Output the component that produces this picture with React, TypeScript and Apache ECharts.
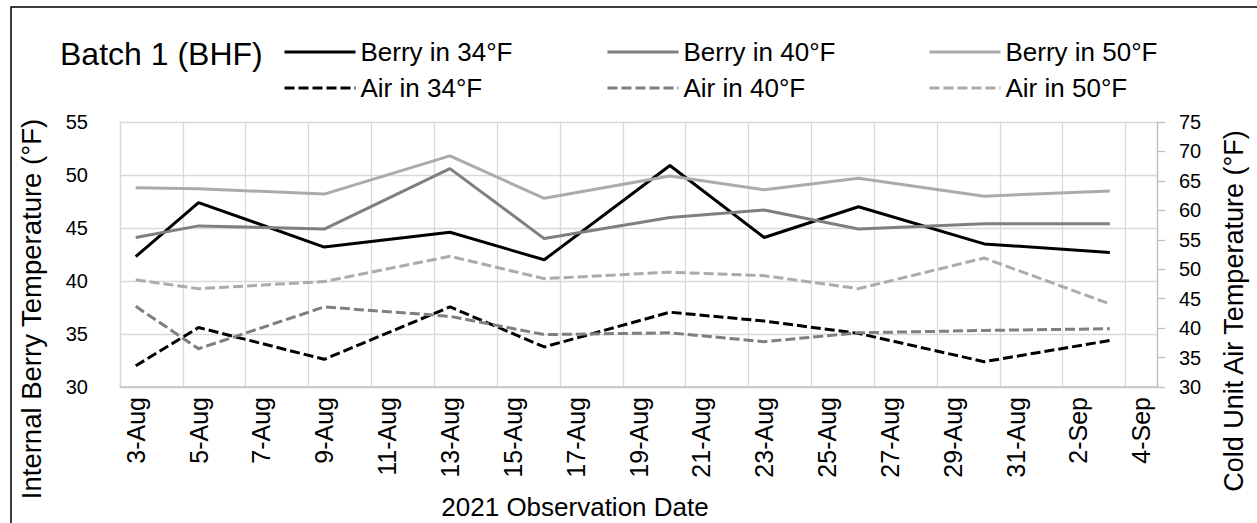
import React, { useEffect, useRef } from "react";
import * as echarts from "echarts";

const categories = [
  "3-Aug", "4-Aug", "5-Aug", "6-Aug", "7-Aug", "8-Aug", "9-Aug", "10-Aug", "11-Aug",
  "12-Aug", "13-Aug", "14-Aug", "15-Aug", "16-Aug", "17-Aug", "18-Aug", "19-Aug",
  "20-Aug", "21-Aug", "22-Aug", "23-Aug", "24-Aug", "25-Aug", "26-Aug", "27-Aug",
  "28-Aug", "29-Aug", "30-Aug", "31-Aug", "1-Sep", "2-Sep", "3-Sep", "4-Sep",
];

const obsDates = ["3-Aug", "5-Aug", "9-Aug", "13-Aug", "16-Aug", "20-Aug", "23-Aug", "26-Aug", "30-Aug", "3-Sep"];

const berry34 = [42.3, 47.4, 43.2, 44.6, 42.0, 50.9, 44.1, 47.0, 43.5, 42.7];
const berry40 = [44.1, 45.2, 44.9, 50.6, 44.0, 46.0, 46.7, 44.9, 45.4, 45.4];
const berry50 = [48.8, 48.7, 48.2, 51.8, 47.8, 49.9, 48.6, 49.7, 48.0, 48.5];
const air34 = [33.6, 40.1, 34.7, 43.6, 36.8, 42.7, 41.2, 39.1, 34.3, 37.9];
const air40 = [43.7, 36.5, 43.6, 42.0, 38.9, 39.2, 37.7, 39.2, 39.6, 39.9];
const air50 = [48.2, 46.7, 47.9, 52.2, 48.4, 49.5, 48.9, 46.7, 51.9, 44.1];

const FONT = '"Liberation Sans", Arial, sans-serif';
const BLACK = "#000000";
const MID = "#7f7f7f";
const LIGHT = "#aeaaaa";
const DASH = [10, 4];

const pairs = (vals: number[]) => obsDates.map((d, i) => [d, vals[i]]);

export default function App() {
  const ref = useRef<HTMLDivElement>(null);
  useEffect(() => {
    if (!ref.current) return;
    const chart = echarts.init(ref.current, undefined, { renderer: "svg" });

    const seriesDefs = [
      { name: "Berry in 34°F", data: berry34, color: BLACK, dashed: false, axis: 0, col: 0, row: 0 },
      { name: "Berry in 40°F", data: berry40, color: MID, dashed: false, axis: 0, col: 1, row: 0 },
      { name: "Berry in 50°F", data: berry50, color: LIGHT, dashed: false, axis: 0, col: 2, row: 0 },
      { name: "Air in 34°F", data: air34, color: BLACK, dashed: true, axis: 1, col: 0, row: 1 },
      { name: "Air in 40°F", data: air40, color: MID, dashed: true, axis: 1, col: 1, row: 1 },
      { name: "Air in 50°F", data: air50, color: LIGHT, dashed: true, axis: 1, col: 2, row: 1 },
    ];
    const colX = [283, 606, 928];
    const rowY = [52, 88];

    const option: any = {
      animation: false,
      backgroundColor: "#ffffff",
      textStyle: { fontFamily: FONT },
      grid: { left: 120, top: 122, right: 100, bottom: 136, containLabel: false },
      legend: seriesDefs.map((s) => ({
        data: [{ name: s.name }],
        left: colX[s.col],
        top: rowY[s.row] - 15,
        padding: 0,
        itemWidth: 71,
        itemHeight: 14,
        textStyle: { fontFamily: FONT, fontSize: 26, color: "#000", lineHeight: 30 },
        lineStyle: { width: 3 },
        itemStyle: { opacity: 0, borderWidth: 0, color: "transparent" },
        selectedMode: false,
      })),
      xAxis: {
        type: "category",
        data: categories,
        boundaryGap: true,
        axisLine: { show: true, lineStyle: { color: "#bfbfbf", width: 1.5 } },
        axisTick: { show: false },
        axisLabel: {
          interval: 1,
          rotate: 90,
          margin: 10,
          fontFamily: FONT,
          fontSize: 25,
          color: "#000",
        },
        splitLine: { show: true, interval: 1, lineStyle: { color: "#d9d9d9", width: 1.3 } },
      },
      yAxis: [
        {
          type: "value",
          min: 30,
          max: 55,
          interval: 5,
          axisLine: { show: true, lineStyle: { color: "#d9d9d9", width: 1.3 } },
          axisTick: { show: false },
          axisLabel: { margin: 32, fontFamily: FONT, fontSize: 20, color: "#000" },
          splitLine: { show: true, lineStyle: { color: "#d9d9d9", width: 1.3 } },
        },
        {
          type: "value",
          min: 30,
          max: 75,
          interval: 5,
          position: "right",
          axisLine: { show: true, lineStyle: { color: "#bfbfbf", width: 1.3 } },
          axisTick: { show: true, length: 8, inside: false, lineStyle: { color: "#bfbfbf", width: 1.3 } },
          axisLabel: { margin: 22, fontFamily: FONT, fontSize: 20, color: "#000" },
          splitLine: { show: false },
        },
      ],
      series: seriesDefs.map((s) => ({
        name: s.name,
        type: "line",
        yAxisIndex: s.axis,
        data: pairs(s.data),
        symbol: "none",
        showSymbol: false,
        color: s.color,
        lineStyle: { color: s.color, width: 3, type: s.dashed ? DASH : "solid" },
        itemStyle: { color: s.color },
        z: 3,
      })),
      graphic: [
        {
          type: "rect",
          silent: true,
          shape: { x: 11, y: 7, width: 1400, height: 700 },
          style: { fill: "none", stroke: "#000", lineWidth: 1.5 },
        },
        {
          type: "text",
          x: 60,
          y: 54,
          style: { text: "Batch 1 (BHF)", x: 0, y: 0, fill: "#000", font: `32px ${FONT}`, align: "left", verticalAlign: "middle" },
        },
        {
          type: "text",
          x: 31,
          y: 309,
          rotation: Math.PI / 2,
          style: {
            text: "Internal Berry Temperature (°F)",
            x: 0,
            y: 0,
            fill: "#000",
            font: `27.5px ${FONT}`,
            align: "center",
            verticalAlign: "middle",
          },
        },
        {
          type: "text",
          x: 1234,
          y: 311,
          rotation: Math.PI / 2,
          style: {
            text: "Cold Unit Air Temperature (°F)",
            x: 0,
            y: 0,
            fill: "#000",
            font: `27px ${FONT}`,
            align: "center",
            verticalAlign: "middle",
          },
        },
        {
          type: "text",
          x: 575,
          y: 507,
          style: {
            text: "2021 Observation Date",
            x: 0,
            y: 0,
            fill: "#000",
            font: `26px ${FONT}`,
            align: "center",
            verticalAlign: "middle",
          },
        },
      ],
    };
    chart.setOption(option);
    return () => chart.dispose();
  }, []);
  return <div ref={ref} style={{ position: "fixed", left: 0, top: 0, width: 1257, height: 523 }} />;
}
